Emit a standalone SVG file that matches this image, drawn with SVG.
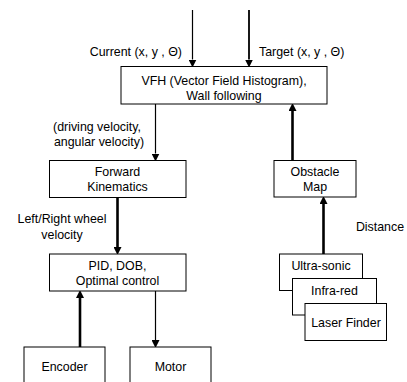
<svg xmlns="http://www.w3.org/2000/svg" width="407" height="382" viewBox="0 0 407 382">
<defs>
<style>
.box{fill:#fff;stroke:#000;stroke-width:1}
text{font-family:"Liberation Sans",Arial,sans-serif;font-size:12.4px;fill:#000}
.c{text-anchor:middle}
.e{text-anchor:end}
.thin{stroke:#000;stroke-width:1.2;fill:none}
.mid{stroke:#000;stroke-width:1.8;fill:none}
.thick{stroke:#000;stroke-width:2.6;fill:none}
</style>
<marker id="ah" markerUnits="userSpaceOnUse" markerWidth="8" markerHeight="8" refX="0" refY="3.5" orient="auto" viewBox="0 0 7 7">
<path d="M0,0 L7,3.5 L0,7 Z" fill="#000"/>
</marker>
</defs>
<rect width="407" height="382" fill="#fff"/>
<g id="connectors">
<line class="thin" x1="192.5" y1="10" x2="192.5" y2="59.5" marker-end="url(#ah)"/>
<line class="mid" x1="249" y1="10" x2="249" y2="59.5" marker-end="url(#ah)"/>
<line class="thin" x1="155.5" y1="104" x2="155.5" y2="153.5" marker-end="url(#ah)"/>
<line class="thick" x1="117.5" y1="197.5" x2="117.5" y2="247" marker-end="url(#ah)"/>
<line class="thick" x1="80" y1="347" x2="80" y2="298" marker-end="url(#ah)"/>
<line class="thin" x1="155.5" y1="291" x2="155.5" y2="340" marker-end="url(#ah)"/>
<line class="thick" x1="292.5" y1="160.5" x2="292.5" y2="111" marker-end="url(#ah)"/>
<line class="thick" x1="323.5" y1="254" x2="323.5" y2="204" marker-end="url(#ah)"/>
</g>
<g id="labels">
<text class="e" x="182" y="56">Current (x, y , Θ)</text>
<text x="259" y="56">Target (x, y , Θ)</text>
<text class="c" x="97" y="131">(driving velocity,</text>
<text class="c" x="99" y="146">angular velocity)</text>
<text class="c" x="62" y="223">Left/Right wheel</text>
<text class="c" x="62" y="239">velocity</text>
<text class="c" x="380" y="231">Distance</text>
</g>
<g id="vfh">
<rect class="box" x="121" y="66.5" width="206" height="37.5"/>
<text class="c" x="224" y="84.5">VFH (Vector Field Histogram),</text>
<text class="c" x="224" y="99.5">Wall following</text>
</g>
<g id="fk">
<rect class="box" x="49.5" y="160.5" width="136.5" height="37"/>
<text class="c" x="117.5" y="176">Forward</text>
<text class="c" x="117.5" y="191">Kinematics</text>
</g>
<g id="pid">
<rect class="box" x="49.5" y="254" width="136.5" height="37"/>
<text class="c" x="117.5" y="269.5">PID, DOB,</text>
<text class="c" x="117.5" y="285">Optimal control</text>
</g>
<g id="encoder">
<rect class="box" x="24" y="347" width="81" height="50"/>
<text class="c" x="64.5" y="371">Encoder</text>
</g>
<g id="motor">
<rect class="box" x="130" y="347" width="81" height="50"/>
<text class="c" x="170.5" y="371">Motor</text>
</g>
<g id="obstacle">
<rect class="box" x="274" y="160.5" width="82" height="36.5"/>
<text class="c" x="315" y="176">Obstacle</text>
<text class="c" x="315" y="191">Map</text>
</g>
<g id="ultrasonic">
<rect class="box" x="279.5" y="254" width="83" height="36.5"/>
<text class="c" x="321" y="269.5">Ultra-sonic</text>
</g>
<g id="infrared">
<rect class="box" x="292.5" y="278.5" width="84" height="36.5"/>
<text class="c" x="334.5" y="295">Infra-red</text>
</g>
<g id="laser">
<rect class="box" x="305" y="303.5" width="81.5" height="37"/>
<text class="c" x="346" y="327">Laser Finder</text>
</g>
</svg>
